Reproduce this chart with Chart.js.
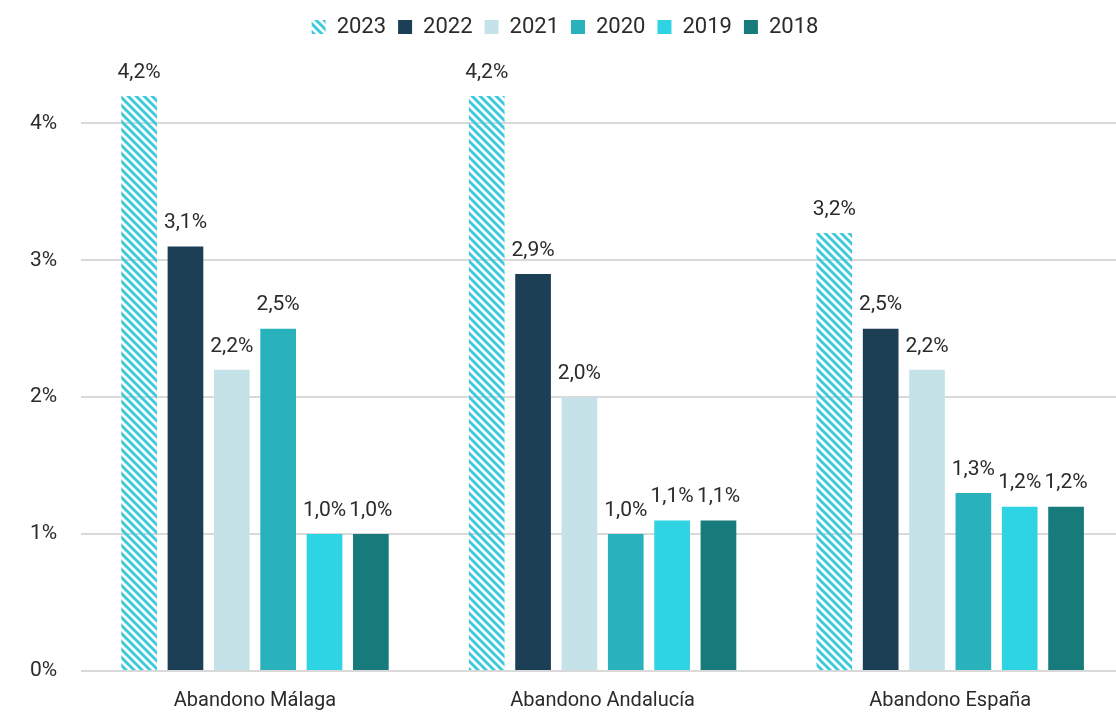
<!DOCTYPE html>
<html>
<head>
<meta charset="utf-8">
<script src="https://cdn.jsdelivr.net/npm/chart.js@4"></script>
<style>
  html, body { margin: 0; padding: 0; background: #fff; overflow: hidden; }
  #wrap { width: 1124px; height: 725px; }
</style>
</head>
<body>
<div id="wrap"><canvas id="chart"></canvas></div>
<script>
// data
const categories = ['Abandono Málaga', 'Abandono Andalucía', 'Abandono España'];
const years = ['2023', '2022', '2021', '2020', '2019', '2018'];
const v2023 = [4.2, 4.2, 3.2];
const v2022 = [3.1, 2.9, 2.5];
const v2021 = [2.2, 2.0, 2.2];
const v2020 = [2.5, 1.0, 1.3];
const v2019 = [1.0, 1.1, 1.2];
const v2018 = [1.0, 1.1, 1.2];
const yTicks = [0, 1, 2, 3, 4];

// hatched fill for 2023
function makeHatch(color) {
    const c = document.createElement('canvas');
    c.width = 8; c.height = 8;
    const g = c.getContext('2d');
    g.strokeStyle = color;
    g.lineWidth = 3;
    g.beginPath();
    g.moveTo(-2, -2); g.lineTo(10, 10);
    g.moveTo(-2, 6); g.lineTo(2, 10);
    g.moveTo(6, -2); g.lineTo(10, 2);
    g.stroke();
    return g.createPattern(c, 'repeat');
}

const FONT = 'Roboto, "DejaVu Sans", sans-serif';
const colors = [makeHatch('#3fcadc'), '#1c3f56', '#c6e2e9', '#2ab2bc', '#2fd4e4', '#177b7b'];
const series = [v2023, v2022, v2021, v2020, v2019, v2018];

const valueLabels = {
    id: 'valueLabels',
    afterDatasetsDraw(chart) {
        const ctx = chart.ctx;
        ctx.save();
        ctx.font = '21px ' + FONT;
        ctx.fillStyle = '#2b2b2b';
        ctx.textAlign = 'center';
        ctx.textBaseline = 'bottom';
        chart.data.datasets.forEach((ds, i) => {
            chart.getDatasetMeta(i).data.forEach((bar, j) => {
                const txt = ds.data[j].toFixed(1).replace('.', ',') + '%';
                ctx.fillText(txt, bar.x, bar.y - 13);
            });
        });
        ctx.restore();
    }
};

const legendGap = {
    id: 'legendGap',
    beforeInit(chart) {
        const fit = chart.legend.fit;
        chart.legend.fit = function () {
            fit.bind(chart.legend)();
            this.height += 48;
        };
    }
};

new Chart(document.getElementById('chart'), {
    type: 'bar',
    data: {
        labels: categories,
        datasets: years.map((y, i) => ({
            label: y,
            data: series[i],
            backgroundColor: colors[i],
            borderWidth: 0,
            categoryPercentage: 0.8,
            barPercentage: 0.77
        }))
    },
    options: {
        responsive: true,
        maintainAspectRatio: false,
        animation: false,
        layout: { padding: { top: 4, left: 6, right: 0, bottom: 2 } },
        plugins: {
            legend: {
                position: 'top',
                labels: {
                    boxWidth: 14,
                    boxHeight: 14,
                    padding: 12,
                    color: '#2b2b2b',
                    font: { size: 22, family: FONT }
                }
            },
            tooltip: { enabled: false }
        },
        scales: {
            x: {
                grid: { display: false },
                border: { display: false },
                ticks: { color: '#2b2b2b', font: { size: 20, family: FONT }, padding: 10 }
            },
            y: {
                min: 0,
                max: 4.2,
                afterBuildTicks(axis) {
                    axis.ticks = yTicks.map(v => ({ value: v }));
                },
                grid: { color: '#d9d9d9', lineWidth: 2, drawTicks: false },
                border: { display: false },
                ticks: {
                    color: '#2b2b2b',
                    padding: 24,
                    font: { size: 21, family: FONT },
                    callback: v => v + '%'
                }
            }
        }
    },
    plugins: [valueLabels, legendGap]
});
</script>
</body>
</html>
